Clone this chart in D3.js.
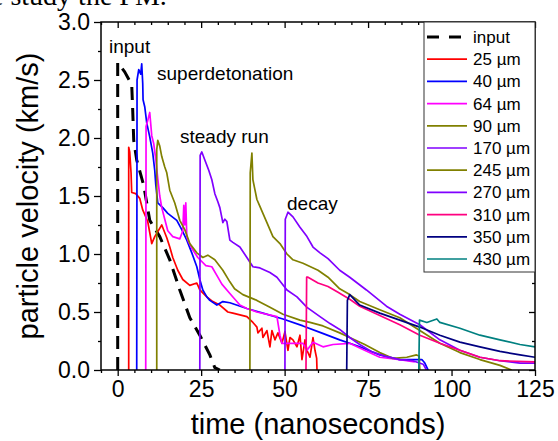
<!DOCTYPE html>
<html><head><meta charset="utf-8">
<script src="https://cdn.jsdelivr.net/npm/d3@7"></script>
<style>body{margin:0;background:#fff}svg{display:block}text{font-family:"Liberation Sans",Arial,sans-serif}</style>
</head><body>
<script>
// ---- data ----
const xTicksMajor = [0, 25, 50, 75, 100, 125];
const yTicksMajor = [0, 0.5, 1.0, 1.5, 2.0, 2.5, 3.0];
const seriesNames = ["input","25 µm","40 µm","64 µm","90 µm","170 µm","245 µm","270 µm","310 µm","350 µm","430 µm"];
const seriesColors = ["#000000","#ff0000","#0000ff","#ff00ff","#808000","#8000ff","#808000","#8000ff","#ff0080","#000080","#008080"];
const annotations = ["input","superdetonation","steady run","decay"];

const sInput = [[0,0],[0,2.65],[2.1,2.57],[4.2,2.46],[4.5,2.24],[4.8,1.98],[5.7,1.81],[7.8,1.59],[9.6,1.29],[12.6,1.15],[15.6,0.95],[18.6,0.69],[21.6,0.45],[24.6,0.30],[27.6,0.13],[29.1,0.02],[30.6,0]];
const s25 = [[3.3,0],[3.3,1.92],[3.6,1.88],[4.0,1.70],[4.2,1.53],[5.4,1.52],[6.6,1.48],[7.5,1.38],[9.0,1.28],[10.2,1.09],[11.1,1.15],[13.2,1.25],[14.7,1.14],[15.6,1.06],[16.5,0.97],[18.0,0.86],[19.5,0.78],[21.6,0.73],[23.7,0.75],[24.6,0.69],[26.7,0.63],[28.5,0.59],[30.6,0.56],[33.0,0.50],[34.5,0.49],[38.7,0.46],[40.5,0.41],[41.7,0.37],[42.0,0.32],[43.2,0.36],[43.5,0.28],[44.7,0.34],[45.6,0.20],[46.2,0.34],[47.1,0.26],[48.0,0.32],[49.2,0.23],[50.1,0.33],[51.0,0.17],[51.6,0.28],[52.5,0.26],[53.7,0.20],[54.6,0.30],[55.2,0.09],[56.1,0.26],[56.7,0.17],[57.6,0.11],[58.5,0.28],[59.1,0.17],[59.6,0.10],[59.7,0]];
const s40 = [[5.7,0],[5.8,2.5],[6.3,2.59],[6.9,2.55],[7.2,2.64],[7.5,2.47],[7.6,2.33],[8.1,2.27],[8.7,2.13],[9.6,2.01],[10.5,1.87],[11.1,1.72],[11.4,1.6],[12.0,1.44],[13.5,1.40],[15.0,1.35],[17.7,1.29],[19.2,1.21],[20.7,1.12],[22.2,1.01],[23.7,0.89],[24.6,0.78],[25.5,0.69],[26.7,0.63],[27.6,0.60],[29.7,0.56],[31.5,0.59],[33.6,0.58],[38.7,0.53],[43.5,0.49],[49.5,0.44],[55.5,0.38],[61.0,0.32],[66.5,0.26],[69.5,0.23],[72.5,0.20],[78.5,0.13],[84.5,0.09],[88.4,0.09],[91.1,0.09],[92.0,0.06],[93.0,0]];
const s64 = [[8.4,0],[8.5,2.1],[9.0,2.15],[9.6,2.22],[10.2,2.02],[10.8,1.95],[11.4,1.82],[12.0,1.65],[12.6,1.5],[13.2,1.4],[14.1,1.3],[15.0,1.2],[16.5,1.15],[18.6,1.13],[19.5,1.2],[19.8,1.42],[20.1,1.25],[20.4,1.44],[20.7,1.15],[21.3,1.1],[22.2,1.05],[24.0,0.97],[26.4,0.9],[28.2,0.89],[30.0,0.8],[31.2,0.74],[33.6,0.66],[36.6,0.56],[38.7,0.53],[41.7,0.5],[47.7,0.46],[48.6,0.30],[49.2,0.23],[55.5,0.23],[56.7,0.17],[58.5,0.24],[61.5,0.2],[64.5,0.22],[69.5,0.23],[72.5,0.19],[78.5,0.11],[84.5,0.09],[89.0,0.07]];
const s90 = [[11.7,0],[11.7,1.9],[12.0,1.98],[12.6,1.93],[13.2,1.84],[14.1,1.75],[14.7,1.70],[15.6,1.55],[17.1,1.44],[18.6,1.29],[20.1,1.21],[21.6,1.09],[23.7,1.01],[25.5,0.97],[27.0,0.99],[29.1,0.95],[31.5,0.86],[33.6,0.76],[35.0,0.70],[37.5,0.65],[41.7,0.60],[45.6,0.54],[49.5,0.48],[54.6,0.43],[57.6,0.41],[61.5,0.38],[66.5,0.32],[69.5,0.28],[74.0,0.22],[78.5,0.15],[82.4,0.10],[86.6,0.11],[89.5,0.13],[90.3,0.12],[90.5,0]];
const s170 = [[24.6,0],[24.7,1.85],[25.2,1.88],[26.1,1.81],[27.3,1.72],[28.2,1.64],[29.1,1.52],[30.0,1.45],[30.6,1.40],[31.5,1.27],[32.1,1.30],[32.7,1.28],[33.6,1.12],[34.5,1.10],[36.6,1.06],[38.7,0.97],[40.5,0.89],[42.6,0.88],[45.6,0.84],[47.7,0.80],[50.7,0.69],[53.7,0.63],[56.7,0.54],[60.6,0.46],[63.6,0.40],[66.5,0.35],[69.5,0.28],[72.5,0.22],[76.0,0.16],[80.0,0.12],[84.5,0.09],[88.4,0.08],[91.5,0.05],[92.5,0]];
const s245 = [[39.6,0],[39.7,1.7],[40.2,1.87],[40.5,1.64],[41.7,1.47],[42.6,1.41],[43.5,1.35],[44.7,1.27],[45.6,1.21],[46.5,1.15],[48.6,1.09],[50.7,1.0],[52.5,0.95],[55.5,0.92],[60.0,0.86],[63.0,0.80],[66.5,0.70],[69.5,0.65],[72.5,0.59],[78.5,0.52],[84.5,0.45],[90.5,0.34],[96.5,0.23],[102.5,0.15],[108.5,0.09],[114.5,0.04],[118.0,0]];
const s270 = [[50.1,0],[50.2,1.3],[51.0,1.36],[52.5,1.32],[54.6,1.23],[56.7,1.15],[58.5,1.06],[60.6,1.01],[63.0,0.96],[66.5,0.86],[69.5,0.80],[74.5,0.69],[80.5,0.55],[84.5,0.48],[90.5,0.39],[96.5,0.26],[102.5,0.17],[108.5,0.11],[114.5,0.08],[120.5,0.06],[125,0.06]];
const s310 = [[56.4,0],[56.6,0.8],[57.0,0.80],[60.0,0.75],[63.0,0.72],[66.0,0.67],[69.5,0.61],[72.5,0.55],[78.5,0.47],[84.5,0.39],[90.5,0.30],[96.5,0.23],[102.5,0.17],[108.5,0.11],[114.5,0.08],[125,0.07]];
const s350 = [[68.6,0],[68.8,0.6],[69.5,0.65],[72.5,0.56],[78.5,0.49],[84.5,0.43],[90.5,0.37],[96.5,0.30],[102.5,0.24],[108.5,0.20],[114.5,0.16],[120.5,0.13],[125,0.11]];
const s430 = [[90.2,0],[90.4,0.43],[92.6,0.41],[95.6,0.44],[96.5,0.41],[102.5,0.36],[108.5,0.30],[114.5,0.26],[120.5,0.22],[125,0.20]];
const allSeries = [sInput, s25, s40, s64, s90, s170, s245, s270, s310, s350, s430];

// ---- chart ----
const W = 558, H = 441;
const L = 101, R = 535, T = 22, B = 370;
const svg = d3.select("body").append("svg").attr("width", W).attr("height", H);
const x = d3.scaleLinear().domain([-5, 125]).range([L, R]);
const y = d3.scaleLinear().domain([0, 3]).range([B, T]);

// clipped paper text at the top (cut off in the reference too)
svg.append("text").attr("x", -9).attr("y", 5)
  .style("font-family", '"Liberation Serif","Times New Roman",serif').style("font-size", "28px")
  .text("e study the PM.");

svg.append("clipPath").attr("id", "pc").append("rect")
  .attr("x", L).attr("y", T - 2).attr("width", R - L).attr("height", B - T + 2);

const line = d3.line().x(d => x(d[0])).y(d => y(d[1]));
const g = svg.append("g").attr("clip-path", "url(#pc)");
allSeries.forEach((s, i) => {
  g.append("path").datum(s).attr("d", line).attr("fill", "none")
    .attr("stroke", seriesColors[i])
    .attr("stroke-width", i === 0 ? 3 : 1.7)
    .attr("stroke-dasharray", i === 0 ? "13,8" : null)
    .attr("stroke-linejoin", "round");
});

// axes
const xMinor = d3.range(-5, 126, 5).filter(v => !xTicksMajor.includes(v));
const yMinor = d3.range(0.25, 3, 0.5);
function style(sel){ sel.select(".domain").remove(); sel.selectAll("line").attr("stroke","#000").attr("stroke-width",1.3); }
svg.append("g").attr("transform", `translate(0,${B})`)
  .call(d3.axisBottom(x).tickValues(xTicksMajor).tickSize(6).tickPadding(5).tickFormat(d3.format("d")))
  .call(style).call(s => s.selectAll("text").style("font-size","23px").attr("fill","#000").style("font-family",'"Liberation Sans",Arial'));
svg.append("g").attr("transform", `translate(0,${B})`)
  .call(d3.axisBottom(x).tickValues(xMinor).tickSize(3).tickFormat("")).call(style);
svg.append("g").attr("transform", `translate(0,${T})`)
  .call(d3.axisBottom(x).tickValues(xTicksMajor).tickSize(6).tickFormat("")).call(style);
svg.append("g").attr("transform", `translate(0,${T})`)
  .call(d3.axisBottom(x).tickValues(xMinor).tickSize(3).tickFormat("")).call(style);
svg.append("g").attr("transform", `translate(${L},0)`)
  .call(d3.axisLeft(y).tickValues(yTicksMajor).tickSize(7).tickPadding(4).tickFormat(d3.format(".1f")))
  .call(style).call(s => s.selectAll("text").style("font-size","23px").attr("fill","#000").style("font-family",'"Liberation Sans",Arial'));
svg.append("g").attr("transform", `translate(${L},0)`)
  .call(d3.axisLeft(y).tickValues(yMinor).tickSize(3).tickFormat("")).call(style);
svg.append("g").attr("transform", `translate(${R},0)`)
  .call(d3.axisLeft(y).tickValues(yTicksMajor).tickSize(6).tickFormat("")).call(style);
svg.append("g").attr("transform", `translate(${R},0)`)
  .call(d3.axisLeft(y).tickValues(yMinor).tickSize(3).tickFormat("")).call(style);
svg.append("rect").attr("x", L).attr("y", T).attr("width", R - L).attr("height", B - T)
  .attr("fill", "none").attr("stroke", "#000").attr("stroke-width", 1.5);

// axis titles
svg.append("text").attr("x", (L + R) / 2).attr("y", 434).attr("text-anchor", "middle")
  .style("font-size", "29px").text("time (nanoseconds)");
svg.append("text").attr("transform", `translate(38,${(T + B) / 2}) rotate(-90)`).attr("text-anchor", "middle")
  .style("font-size", "29px").text("particle velocity (km/s)");

// annotations
const annPos = [[109, 53], [157, 80], [180, 143], [287, 210]];
annotations.forEach((a, i) => {
  svg.append("text").attr("x", annPos[i][0]).attr("y", annPos[i][1]).style("font-size", "19px").text(a);
});

// legend
const lg = svg.append("g");
lg.append("rect").attr("x", 424).attr("y", T).attr("width", R - 424).attr("height", 272 - T)
  .attr("fill", "#fff").attr("stroke", "#333").attr("stroke-width", 1);
seriesNames.forEach((n, i) => {
  const yy = 37 + i * 22.2;
  lg.append("line").attr("x1", 427).attr("x2", 467).attr("y1", yy).attr("y2", yy)
    .attr("stroke", seriesColors[i]).attr("stroke-width", i === 0 ? 3 : 1.7)
    .attr("stroke-dasharray", i === 0 ? "12,10" : null);
  lg.append("text").attr("x", 473).attr("y", yy + 6).style("font-size", "17px").text(n);
});
</script>
</body></html>
